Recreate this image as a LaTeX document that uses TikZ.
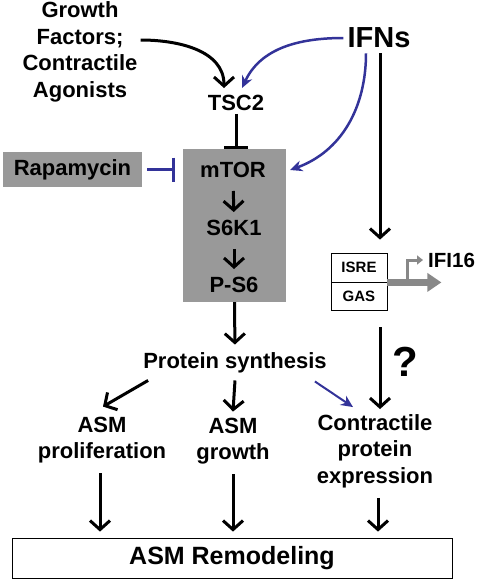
\documentclass[tikz,border=0pt]{standalone}
\usepackage{fontspec}
\setmainfont{Liberation Sans}
\usetikzlibrary{arrows.meta}

\definecolor{ifnblue}{RGB}{51,51,153}
\definecolor{boxgray}{RGB}{153,153,153}
\definecolor{promogray}{RGB}{136,136,136}

\tikzset{
  lbl/.style={font=\fontsize{22}{26.5}\selectfont\bfseries, align=center, inner sep=0pt},
  act/.style={line width=3pt, -{Straight Barb[length=9pt,width=20pt]}},
  blueact/.style={line width=2.5pt, draw=ifnblue, -{Stealth[length=12pt,width=11pt]}},
  inh/.style={line width=3pt, -{Bar[width=24pt]}},
  smallbox/.style={draw, line width=0.8pt, minimum width=56pt, font=\fontsize{15}{18}\selectfont\bfseries}
}

\begin{document}
\begin{tikzpicture}[x=1pt,y=-1pt]
\useasboundingbox (0,0) rectangle (477,579);

% inputs
\node[lbl] (gf) at (80,52) {Growth\\Factors;\\Contractile\\Agonists};
\node[lbl, font=\fontsize{29}{34}\selectfont\bfseries] (ifn) at (379,38) {IFNs};
\node[lbl] (tsc) at (236,103) {TSC2};

% mTOR block
\node[fill=boxgray, minimum width=103pt, minimum height=153pt, inner sep=0pt] (mtorbox) at (234.5,225.5) {};
\node[lbl] (mtor) at (233,170) {mTOR};
\node[lbl] (s6k) at (234,228) {S6K1};
\node[lbl] (ps6) at (234,285) {P-S6};
\node[lbl, fill=boxgray, minimum width=139pt, minimum height=35pt] (rapa) at (72.5,169.5) {Rapamycin};

% promoter
\node[smallbox, minimum height=29pt] (isre) at (359,267.5) {ISRE};
\node[smallbox, minimum height=28pt, anchor=north] (gas) at (isre.south) {GAS};
\node[lbl, font=\fontsize{20.5}{24}\selectfont\bfseries, anchor=west] (ifi) at (428,260) {IFI16};

% outputs
\node[lbl] (ps) at (235,363) {Protein synthesis};
\node[lbl, font=\fontsize{42}{44}\selectfont\bfseries] (q) at (405,362) {?};
\node[lbl] (prolif) at (102,440) {ASM\\proliferation};
\node[lbl] (growth) at (233,441) {ASM\\growth};
\node[lbl] (contr) at (375,451) {Contractile\\protein\\expression};
\node[lbl, font=\fontsize{25}{30}\selectfont\bfseries, draw, line width=0.8pt, minimum width=440pt, minimum height=40pt] (remod) at (232,558) {ASM Remodeling};

% connectors
\draw[act] ([xshift=3pt,yshift=12pt]gf.east) to[out=0,in=90] ([xshift=-12pt,yshift=7pt]tsc.north);
\draw[blueact] ([xshift=-4pt]ifn.west) to[out=180,in=65] ([xshift=6pt,yshift=7pt]tsc.north);
\draw[blueact] ([xshift=-13pt,yshift=-5pt]ifn.south) to[out=-90,in=20] ([xshift=4pt]mtorbox.east |- mtor.center);
\draw[act] ([xshift=1pt,yshift=-5pt]ifn.south) -- ([xshift=1pt,yshift=13pt]ifn.south |- isre.north);
\draw[inh] ([yshift=-3pt]tsc.south) -- (tsc.south |- mtorbox.north);
\draw[inh, draw=ifnblue] ([xshift=5pt]rapa.east) -- ([xshift=-8pt]mtorbox.west |- rapa.center);
\draw[act, shorten <=13pt, shorten >=8pt] (mtor) -- (s6k);
\draw[act, shorten <=13pt, shorten >=8pt] (s6k) -- (ps6);
\draw[act, shorten >=8pt] (mtorbox.south) -- (ps.north);

% promoter arrows
\draw[line width=7pt, draw=promogray, -{Triangle[length=14pt,width=18pt]}] (isre.south east) -- ++(54,0);
\draw[line width=3pt, draw=promogray, -{Triangle[length=6pt,width=9pt]}, shorten >=5pt] ([xshift=20pt]isre.south east) |- (ifi.west);

\coordinate (qtop) at (380,327);
\draw[act] (qtop) -- ([yshift=5pt]qtop |- contr.north);

\draw[act] ([shift={(5pt,-7pt)}]ps.south west) -- ([shift={(1pt,10pt)}]prolif.north);
\draw[act] ([yshift=-7pt]ps.south) -- ([yshift=6pt]growth.north);
\draw[blueact, line width=2pt] ([shift={(-12pt,-8pt)}]ps.south east) -- ([shift={(-22pt,7pt)}]contr.north);

\draw[act] ([xshift=-2pt,yshift=-10pt]prolif.south) -- ([xshift=-2pt,yshift=6pt]prolif.south |- remod.north);
\draw[act] ([yshift=-10pt]growth.south) -- ([yshift=6pt]growth.south |- remod.north);
\draw[act] ([xshift=3pt,yshift=-10pt]contr.south) -- ([xshift=3pt,yshift=6pt]contr.south |- remod.north);
\end{tikzpicture}
\end{document}
